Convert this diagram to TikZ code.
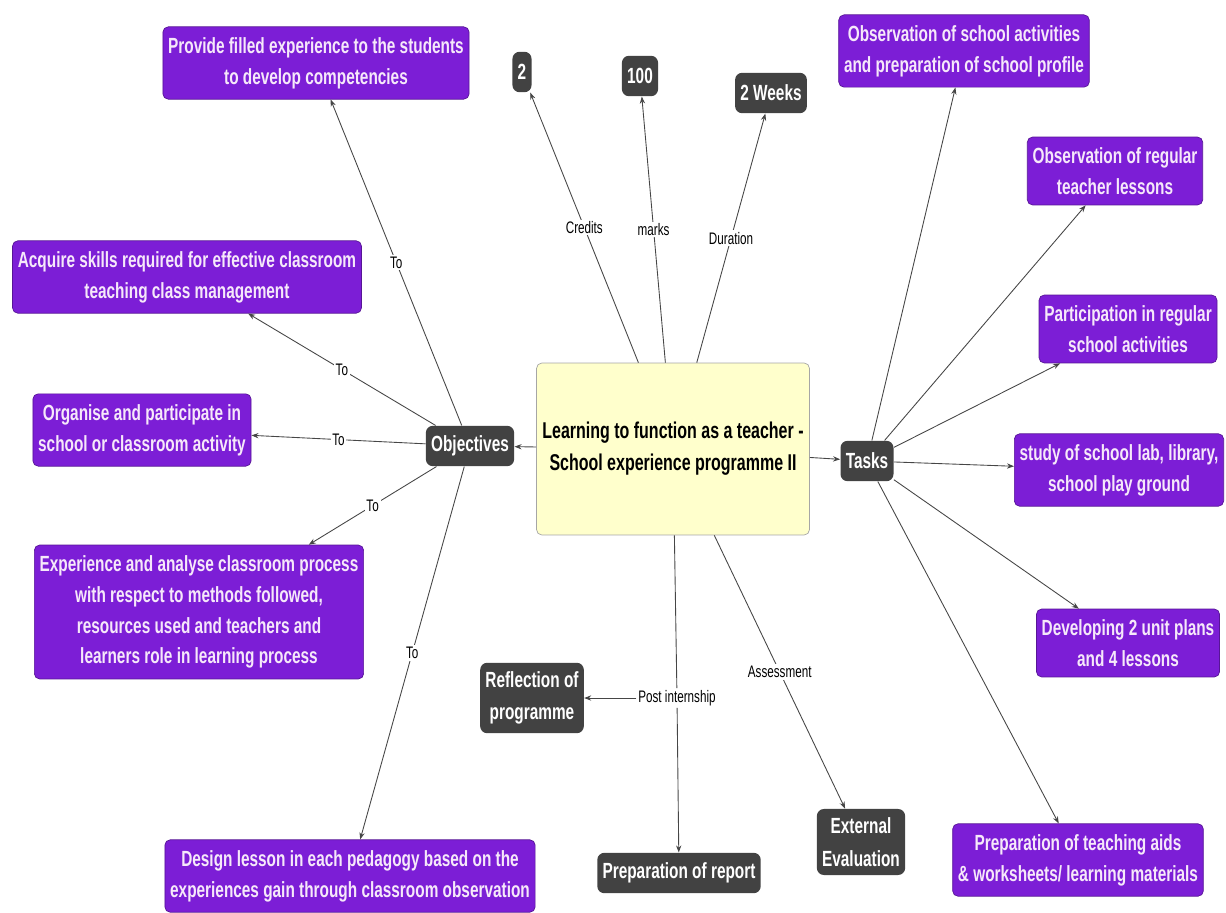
\documentclass[tikz,border=0pt]{standalone}
\usepackage{fontspec}
\setmainfont{Liberation Sans}[FakeStretch=0.7]
\usetikzlibrary{arrows.meta}
\definecolor{boxpurple}{RGB}{124,30,214}
\definecolor{boxgrey}{RGB}{66,66,66}
\definecolor{boxyellow}{RGB}{255,255,204}
\definecolor{linegrey}{RGB}{70,70,70}
\definecolor{lilac}{RGB}{246,232,250}

\begin{document}
\begin{tikzpicture}[x=0.02cm,y=-0.02cm,
  aim/.style={draw=boxpurple!70!black,fill=boxpurple,text=lilac,rounded corners=3pt,align=center,inner xsep=3pt,inner ysep=6pt,font=\bfseries\fontsize{12.5}{17.5}\selectfont},
  fact/.style={fill=boxgrey,text=white,rounded corners=4pt,align=center,inner xsep=3pt,inner ysep=5pt,minimum height=23pt,font=\bfseries\fontsize{12.5}{18.4}\selectfont},
  link/.style={draw=linegrey,line width=0.5pt,-{Stealth[length=4pt,width=3pt]}},
  tag/.style={fill=white,inner sep=1pt,text=black,font=\fontsize{9.5}{11}\selectfont}]
\useasboundingbox (0,0) rectangle (1226,912);
\node[draw=gray!70,fill=boxyellow,rounded corners=3pt,minimum width=5.3cm,minimum height=3.44cm,align=center,font=\bfseries\fontsize{13}{18.2}\selectfont] (centre) at (673,449) {Learning to function as a teacher -\\School experience programme II};
\node[fact] (obj) at (470,446) {Objectives};
\node[fact] (tasks) at (867,461) {Tasks};
\node[fact] (credit) at (522,72) {2};
\node[fact] (marks) at (640,76) {100};
\node[fact] (weeks) at (771,93) {2 Weeks};
\node[fact] (refl) at (532,698) {Reflection of\\programme};
\node[fact] (report) at (679,873) {Preparation of report};
\node[fact] (ext) at (861,842) {External\\Evaluation};
\node[aim] (provide) at (316,63) {Provide filled experience to the students\\to develop competencies};
\node[aim] (acquire) at (187,277) {Acquire skills required for effective classroom\\teaching class management};
\node[aim] (organise) at (142,430) {Organise and participate in\\school or classroom activity};
\node[aim] (analyse) at (199,612) {Experience and analyse classroom process\\with respect to methods followed,\\resources used and teachers and\\learners role in learning process};
\node[aim] (design) at (350,876) {Design lesson in each pedagogy based on the\\experiences gain through classroom observation};
\node[aim] (obsact) at (964,51) {Observation of school activities\\and preparation of school profile};
\node[aim] (obsles) at (1115,171) {Observation of regular\\teacher lessons};
\node[aim] (partic) at (1128,329) {Participation in regular\\school activities};
\node[aim] (study) at (1119,470) {study of school lab, library,\\school play ground};
\node[aim] (develop) at (1128,643) {Developing 2 unit plans\\and 4 lessons};
\node[aim] (aids) at (1078,860) {Preparation of teaching aids\\\& worksheets/ learning materials};
\node[tag] (post) at (677,698) {Post internship};
\draw[link] (centre) -- (obj);
\draw[link] (centre) -- (tasks);
\draw[link] (centre) -- node[tag] {Credits} (credit);
\draw[link] (centre) -- node[tag] {marks} (marks);
\draw[link] (centre) -- node[tag] {Duration} (weeks);
\draw[link] (centre) -- node[tag] {Assessment} (ext);
\draw[draw=linegrey,line width=0.5pt] (centre) -- (post);
\draw[link] (post) -- (report);
\draw[link] (post) -- (refl);
\foreach \goal in {provide,acquire,organise,analyse,design}
  \draw[link] (obj) -- node[tag] {To} (\goal);
\foreach \job in {obsact,obsles,partic,study,develop,aids}
  \draw[link] (tasks) -- (\job);
\end{tikzpicture}
\end{document}
